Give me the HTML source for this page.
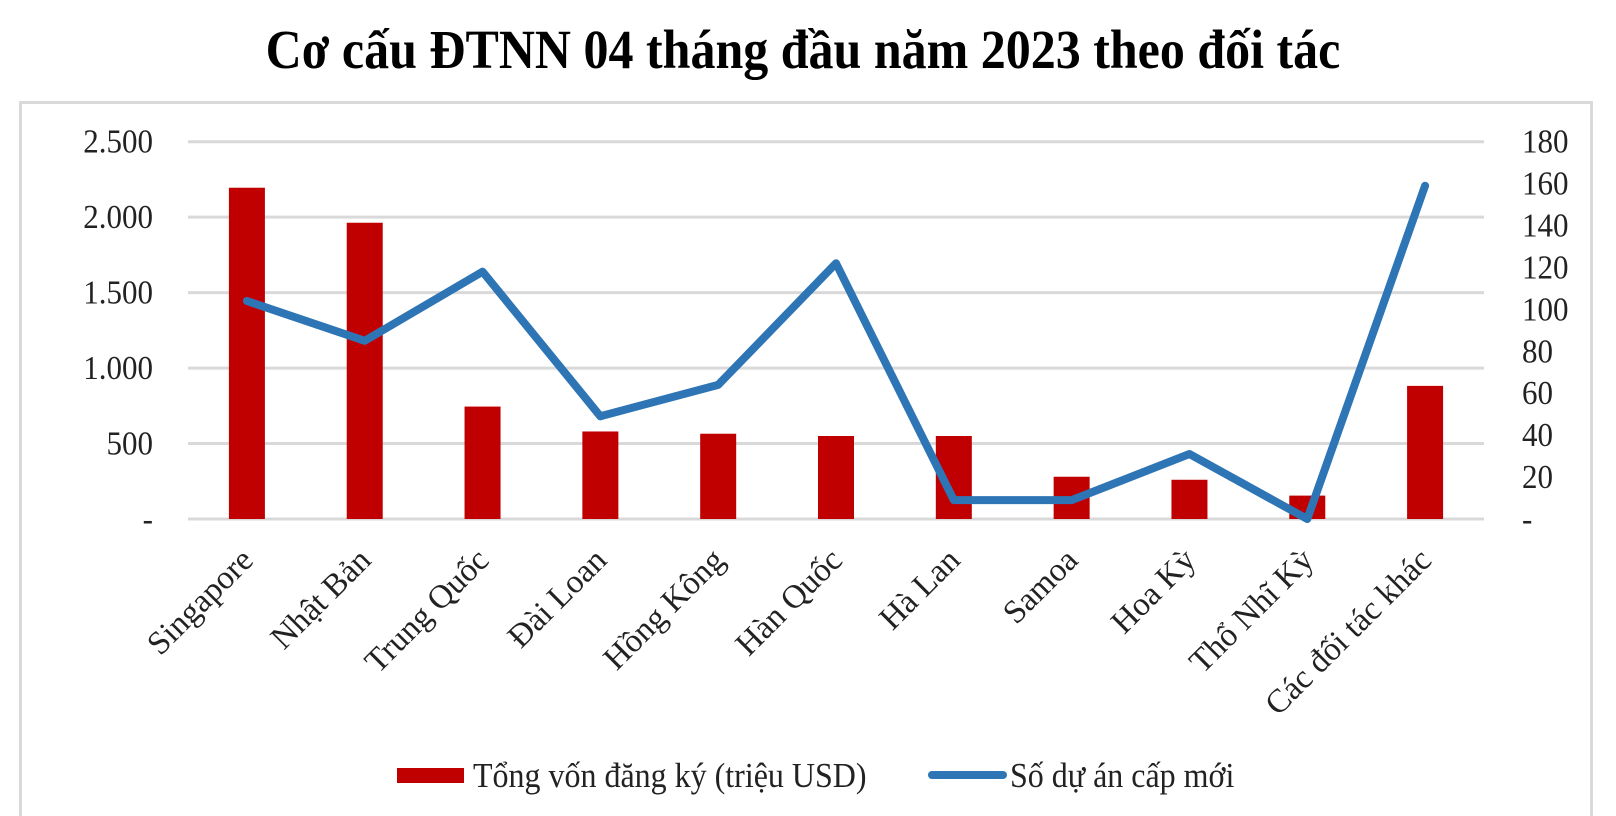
<!DOCTYPE html>
<html><head><meta charset="utf-8"><style>
html,body{margin:0;padding:0;background:#fff;width:1616px;height:816px;overflow:hidden}
svg text{font-family:"Liberation Serif","Noto Serif CJK SC",serif}
</style></head><body>
<svg width="1616" height="816" xmlns="http://www.w3.org/2000/svg">
<text x="803" y="68" text-anchor="middle" font-size="50" font-weight="bold" fill="#000" transform="translate(0,-6.8) scale(1,1.1)">Cơ cấu ĐTNN 04 tháng đầu năm 2023 theo đối tác</text>
<rect x="20.5" y="102.5" width="1571" height="720" fill="none" stroke="#d9d9d9" stroke-width="3"/>
<g id="grid"></g><g id="bars"></g><g id="line"></g><g id="labels"></g>
<g>
<rect x="397" y="768" width="67" height="15" fill="#c00000"/>
<text x="473" y="787" font-size="32" fill="#222" transform="translate(0,-78.7) scale(1,1.1)">Tổng vốn đăng ký (triệu USD)</text>
<line x1="932" y1="775" x2="1003" y2="775" stroke="#2e75b6" stroke-width="8" stroke-linecap="round"/>
<text x="1010" y="787" font-size="32" fill="#222" transform="translate(0,-78.7) scale(1,1.1)">Số dự án cấp mới</text>
</g>
</svg>
<script>
const categories=["Singapore","Nhật Bản","Trung Quốc","Đài Loan","Hồng Kông","Hàn Quốc","Hà Lan","Samoa","Hoa Kỳ","Thổ Nhĩ Kỳ","Các đối tác khác"];
const capital=[2195,1963,745,580,565,550,550,280,260,155,882];
const projects=[104,85,118,49,64,122,9,9,31,0,159];
const leftTicks=[0,500,1000,1500,2000,2500];
const leftTickLabels=["-","500","1.000","1.500","2.000","2.500"];
const rightTicks=[0,20,40,60,80,100,120,140,160,180];
const rightTickLabels=["-","20","40","60","80","100","120","140","160","180"];
const NS="http://www.w3.org/2000/svg";
const X0=188,X1=1484,Y0=519,Y1=141.7;
const step=(X1-X0)/categories.length;
const xc=i=>X0+step*(i+0.5);
const yl=v=>Y0-(v/2500)*(Y0-Y1);
const yr=v=>Y0-(v/180)*(Y0-Y1);
function mk(t,a,p){const e=document.createElementNS(NS,t);for(const k in a)e.setAttribute(k,a[k]);p.appendChild(e);return e;}
const g=document.getElementById('grid'),b=document.getElementById('bars'),l=document.getElementById('line'),lb=document.getElementById('labels');
leftTicks.forEach((v,i)=>{
 const ln=mk('line',{x1:X0,x2:X1,y1:yl(v),y2:yl(v),stroke:'#d9d9d9','stroke-width':3},g);
 
 
 const y=yl(v)+11;
 const t=mk('text',{x:153,y:y,'text-anchor':'end','font-size':31,fill:'#222',transform:`translate(0,${-y*0.08}) scale(1,1.08)`},lb);
 t.textContent=leftTickLabels[i];
 
 
});
rightTicks.forEach((v,i)=>{
 const y=yr(v)+11;
 const t=mk('text',{x:1522,y:y,'font-size':31,fill:'#222',transform:`translate(0,${-y*0.08}) scale(1,1.08)`},lb);
 t.textContent=rightTickLabels[i];
 
 
});
capital.forEach((v,i)=>{
 const r=mk('rect',{x:xc(i)-18,y:yl(v),width:36,height:Y0-yl(v),fill:'#c00000'},b);
 
 
});
const pl=mk('polyline',{points:projects.map((v,i)=>xc(i)+','+yr(v)).join(' '),fill:'none',stroke:'#2e75b6','stroke-width':8,'stroke-linejoin':'round','stroke-linecap':'round'},l);


categories.forEach((c,i)=>{
 const x=xc(i)+8,y=562;
 const t=mk('text',{x:x,y:y,'text-anchor':'end','font-size':33,fill:'#222',transform:`rotate(-45 ${x} ${y})`},lb);
 t.textContent=c;
 
 
});
</script>
</body></html>
